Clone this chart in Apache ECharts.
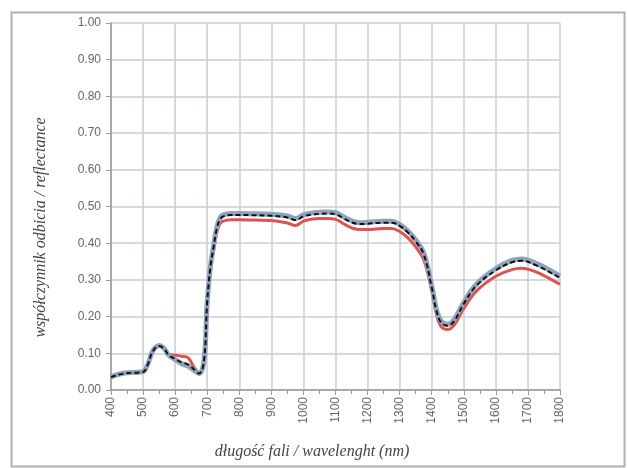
<!DOCTYPE html>
<html>
<head>
<meta charset="utf-8">
<script src="https://cdn.jsdelivr.net/npm/echarts@6/dist/echarts.min.js"></script>
<style>html,body{margin:0;padding:0;background:#fff}#c{width:628px;height:468px}</style>
</head>
<body>
<div id="c"></div>
<script>
const wavelengths = [400,425,450,475,500,515,530,550,565,580,600,620,640,660,675,690,700,710,720,730,740,750,775,800,850,900,950,975,1000,1025,1050,1075,1100,1125,1150,1175,1200,1250,1275,1300,1325,1350,1375,1400,1415,1430,1450,1470,1500,1540,1600,1650,1680,1725,1775,1800];
const blueValues = [0.036,0.043,0.047,0.048,0.050,0.071,0.106,0.121,0.114,0.095,0.083,0.072,0.065,0.053,0.045,0.080,0.240,0.337,0.393,0.444,0.469,0.477,0.481,0.481,0.480,0.479,0.474,0.467,0.477,0.482,0.484,0.485,0.483,0.472,0.461,0.456,0.457,0.460,0.460,0.451,0.434,0.409,0.374,0.284,0.219,0.187,0.179,0.192,0.239,0.289,0.331,0.353,0.357,0.345,0.323,0.310];
const blackValues = [0.035,0.042,0.046,0.047,0.049,0.070,0.105,0.120,0.113,0.095,0.085,0.075,0.070,0.055,0.045,0.080,0.240,0.335,0.390,0.440,0.465,0.473,0.477,0.477,0.476,0.475,0.470,0.463,0.473,0.478,0.480,0.481,0.479,0.468,0.457,0.452,0.453,0.456,0.456,0.447,0.430,0.405,0.370,0.280,0.215,0.183,0.175,0.188,0.235,0.285,0.326,0.348,0.352,0.340,0.318,0.305];
const redValues = [0.035,0.042,0.046,0.047,0.049,0.070,0.105,0.120,0.113,0.097,0.095,0.092,0.088,0.060,0.046,0.080,0.235,0.328,0.382,0.430,0.453,0.460,0.464,0.464,0.463,0.462,0.455,0.448,0.460,0.465,0.467,0.467,0.465,0.453,0.442,0.437,0.437,0.440,0.440,0.432,0.415,0.390,0.355,0.270,0.205,0.172,0.165,0.177,0.222,0.270,0.310,0.328,0.332,0.322,0.300,0.288];

const pair = v => wavelengths.map((w, i) => [w, v[i]]);
const chart = echarts.init(document.getElementById('c'), null, {renderer: 'canvas'});
chart.setOption({
  animation: false,
  backgroundColor: '#fff',
  graphic: [{
    type: 'rect', left: 9, top: 10, shape: {width: 613, height: 454},
    style: {fill: 'none', stroke: '#b0b0b0', lineWidth: 2}, silent: true, z: -1
  }],
  grid: {left: 111, right: 68, top: 23, bottom: 78},
  xAxis: {
    type: 'value', min: 400, max: 1800, interval: 100,
    name: 'długość fali / wavelenght (nm)', nameLocation: 'middle', nameGap: 54,
    nameTextStyle: {fontFamily: 'Liberation Serif', fontStyle: 'italic', fontSize: 16, color: '#444',
      padding: [0, 47, 0, 0]},
    axisLine: {show: true, lineStyle: {color: '#999', width: 1.5}},
    axisTick: {show: true, length: 5, lineStyle: {color: '#999'}},
    minorTick: {show: true, splitNumber: 2, length: 4, lineStyle: {color: '#999'}},
    axisLabel: {rotate: 90, fontFamily: 'Liberation Sans', fontSize: 12, color: '#666', margin: 7,
      formatter: v => String(v)},
    splitLine: {show: true, lineStyle: {color: '#c9ced6', width: 1.5}}
  },
  yAxis: {
    type: 'value', min: 0, max: 1, interval: 0.1,
    name: 'współczynnik odbicia / reflectance', nameLocation: 'middle', nameGap: 62,
    nameTextStyle: {fontFamily: 'Liberation Serif', fontStyle: 'italic', fontSize: 16, color: '#444',
      padding: [0, 42, 0, 0]},
    axisLine: {show: true, lineStyle: {color: '#999', width: 1.5}},
    axisTick: {show: true, length: 5, lineStyle: {color: '#999'}},
    axisLabel: {fontFamily: 'Liberation Sans', fontSize: 12, color: '#666', margin: 10,
      formatter: v => v.toFixed(2)},
    splitLine: {show: true, lineStyle: {color: '#c9ced6', width: 1.5}}
  },
  series: [
    {type: 'line', data: pair(redValues), smooth: 0.4, showSymbol: false,
      lineStyle: {color: '#e0524f', width: 3}, z: 2},
    {type: 'line', data: pair(blueValues), smooth: 0.4, showSymbol: false,
      lineStyle: {color: '#8fa3bd', width: 5}, z: 3},
    {type: 'line', data: pair(blackValues), smooth: 0.4, showSymbol: false,
      lineStyle: {color: '#111', width: 2, type: [5, 3]}, z: 4}
  ]
});
</script>
</body>
</html>
